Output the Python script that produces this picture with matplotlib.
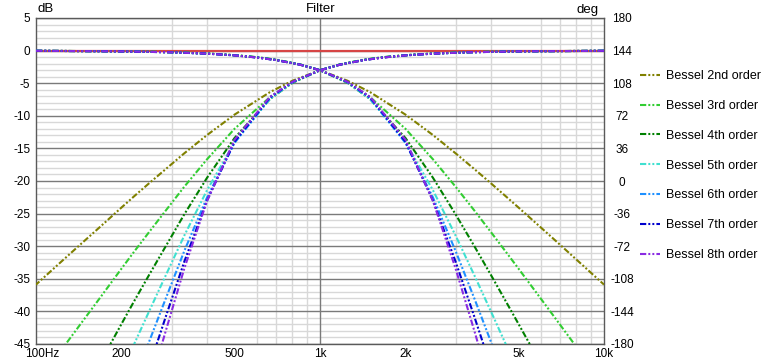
import matplotlib
matplotlib.use("Agg")
import matplotlib.pyplot as plt
from matplotlib.ticker import FixedLocator, NullFormatter, FixedFormatter
from matplotlib.transforms import ScaledTranslation

plt.rcParams['font.family'] = ['Liberation Sans', 'DejaVu Sans']
plt.rcParams['lines.scale_dashes'] = False
plt.rcParams['axes.unicode_minus'] = False

# ---- data ----
# low-pass points (Hz) and the mirrored high-pass points (Hz)
freq_lp = [100, 200, 300, 400, 500, 600, 700, 850, 1000, 1250, 1500, 2000,
           2500, 3000, 3500, 4000, 4500, 5000, 6000, 7000, 8000, 10000]
freq_hp = [10000, 5000, 3333, 2500, 2000, 1667, 1429, 1176, 1000, 800, 667, 500,
           400, 333, 286, 250, 222, 200, 167, 143, 125, 100]

bessel2 = [-0.03, -0.11, -0.25, -0.45, -0.71, -1.05, -1.44, -2.16, -3.01, -4.62, -6.36, -9.82,
           -12.96, -15.74, -18.19, -20.36, -22.31, -24.07, -27.15, -29.77, -32.06, -35.89]
bessel3 = [-0.03, -0.11, -0.24, -0.44, -0.69, -1.01, -1.39, -2.11, -3.01, -4.88, -7.12, -12.00,
           -16.68, -20.86, -24.56, -27.85, -30.79, -33.44, -38.08, -42.03, -45.47]
bessel4 = [-0.03, -0.11, -0.25, -0.45, -0.71, -1.02, -1.41, -2.12, -3.01, -4.94, -7.42, -13.41,
           -19.52, -25.09, -30.04, -34.43, -38.37, -41.92, -48.12]
bessel5 = [-0.03, -0.11, -0.26, -0.46, -0.72, -1.04, -1.43, -2.14, -3.01, -4.90, -7.41, -14.06,
           -21.43, -28.34, -34.52, -40.02, -44.94, -49.39]
bessel6 = [-0.03, -0.12, -0.26, -0.46, -0.73, -1.05, -1.44, -2.15, -3.01, -4.85, -7.29, -14.17,
           -22.54, -30.70, -38.08, -44.68, -50.59]
bessel7 = [-0.03, -0.12, -0.26, -0.47, -0.73, -1.06, -1.45, -2.15, -3.01, -4.81, -7.17, -13.98,
           -23.03, -32.33, -40.89, -48.56]
bessel8 = [-0.03, -0.12, -0.26, -0.47, -0.74, -1.06, -1.45, -2.16, -3.01, -4.79, -7.08, -13.68,
           -23.08, -33.38, -43.07, -51.81]

series_names = ["Bessel 2nd order", "Bessel 3rd order", "Bessel 4th order", "Bessel 5th order",
                "Bessel 6th order", "Bessel 7th order", "Bessel 8th order"]
series_values = [bessel2, bessel3, bessel4, bessel5, bessel6, bessel7, bessel8]
series_colors = ["#808000", "#32cd32", "#008000", "#40e0d0", "#1e90ff", "#0000cd", "#8a2be2"]

flat_freq = [100, 10000]
flat_db = [0, 0]

x_tick_vals = [100, 200, 500, 1000, 2000, 5000, 10000]
x_tick_labels = ["100Hz", "200", "500", "1k", "2k", "5k", "10k"]
y_ticks = list(range(-45, 6, 5))
deg_ticks = list(range(-180, 181, 36))

# ---- figure ----
fig = plt.figure(figsize=(7.7, 3.6), dpi=100)
ax = fig.add_axes([36 / 770, 16 / 360, 568 / 770, 326 / 360])
ax.set_xscale('log')
ax.set_xlim(100, 10000)
ax.set_ylim(-45, 5)

minor_x = [f * m for f in (100, 1000) for m in range(2, 10)]
ax.xaxis.set_major_locator(FixedLocator(x_tick_vals))
ax.xaxis.set_major_formatter(FixedFormatter(x_tick_labels))
ax.xaxis.set_minor_locator(FixedLocator(minor_x))
ax.xaxis.set_minor_formatter(NullFormatter())
ax.yaxis.set_major_locator(FixedLocator(y_ticks))
ax.yaxis.set_minor_locator(FixedLocator(list(range(-45, 6, 1))))

ax.grid(False)
ax.grid(which='minor', axis='both', color='#d8d8d8', linewidth=1.0)
ax.set_axisbelow(True)
dark = '#7a7a7a'
for yv in y_ticks:
    ax.axhline(yv, color=dark, linewidth=1.0, zorder=0.8)
ax.axvline(1000, color=dark, linewidth=1.0, zorder=0.8)

ax.tick_params(which='both', length=0)
ax.tick_params(axis='x', pad=3, labelsize=8.5)
ax.tick_params(axis='y', pad=4, labelsize=8.5)
for s in ax.spines.values():
    s.set_color('#5a5a5a')
    s.set_linewidth(1.0)

ax.plot(flat_freq, flat_db, color='#d64545', linewidth=1.6, zorder=2)

dash = (4.5, 1.5, 1.4, 1.5, 1.4, 1.5)
for name, vals, col in zip(series_names, series_values, series_colors):
    n = len(vals)
    ax.plot(freq_lp[:n], vals, color=col, linewidth=1.5, dashes=dash, label=name, zorder=3)
    ax.plot(freq_hp[:n], vals, color=col, linewidth=1.5, dashes=dash, zorder=3)

ax2 = ax.twinx()
ax2.set_ylim(-180, 180)
ax2.yaxis.set_major_locator(FixedLocator(deg_ticks))
ax2.tick_params(axis='y', length=0, pad=13, labelsize=8.5)
for s in ax2.spines.values():
    s.set_visible(False)

fig.canvas.draw()
for lbl in ax2.get_yticklabels():
    lbl.set_horizontalalignment('center')
first = ax.xaxis.get_major_ticks()[0].label1
first.set_transform(first.get_transform() + ScaledTranslation(6.5 / 100, 0, fig.dpi_scale_trans))

fig.text(321 / 770, 1 - 9 / 360, "Filter", ha='center', va='center', fontsize=9.5)
fig.text(38 / 770, 1 - 9 / 360, "dB", ha='left', va='center', fontsize=9.5)
fig.text(599 / 770, 1 - 10 / 360, "deg", ha='right', va='center', fontsize=9.5)

handles, labels = ax.get_legend_handles_labels()
fig.legend(handles, labels, loc='upper left', bbox_to_anchor=(640 / 770, 1 - 70 / 360),
           frameon=False, fontsize=9, handlelength=1.6, handletextpad=0.45,
           labelspacing=1.43, borderpad=0, borderaxespad=0)

fig.savefig("out.png", dpi=100)
